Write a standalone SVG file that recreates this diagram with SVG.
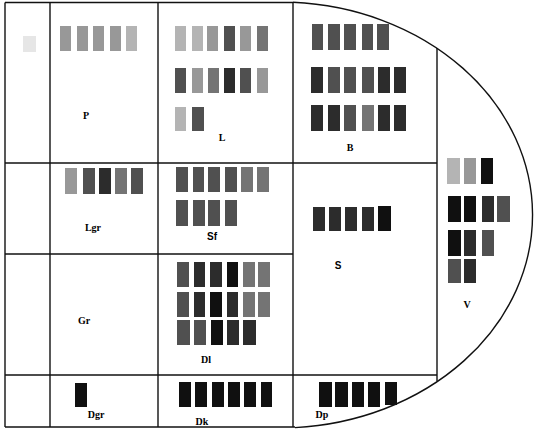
<svg xmlns="http://www.w3.org/2000/svg" width="535" height="431" viewBox="0 0 535 431">
<style>
.ln{stroke:#111;stroke-width:1.4;fill:none}
.lb{font-family:"Liberation Serif",serif;font-size:10px;font-weight:bold;fill:#000;text-anchor:middle}
.lbs{font-family:"Liberation Sans",sans-serif;font-size:10px;font-weight:bold;fill:#000;text-anchor:middle}
.s0{fill:#e6e6e6}
.s1{fill:#b4b4b4}
.s2{fill:#989898}
.s3{fill:#747474}
.s4{fill:#505050}
.s5{fill:#2c2c2c}
.s6{fill:#101010}
</style>
<rect width="535" height="431" fill="#fff"/>
<g id="frame">
<path class="ln" d="M293,2.3 A253,213 0 0 1 295,427.6"/>
<line class="ln" x1="5" y1="2.5" x2="293" y2="2.5"/>
<line class="ln" x1="5" y1="2.5" x2="5" y2="427"/>
<line class="ln" x1="5" y1="427" x2="295" y2="427"/>
<line class="ln" x1="50" y1="2.5" x2="50" y2="427"/>
<line class="ln" x1="158" y1="2.5" x2="158" y2="427"/>
<line class="ln" x1="293" y1="2.5" x2="293" y2="427"/>
<line class="ln" x1="437" y1="48" x2="437" y2="381"/>
<line class="ln" x1="5" y1="163" x2="437" y2="163"/>
<line class="ln" x1="5" y1="254" x2="293" y2="254"/>
<line class="ln" x1="5" y1="375" x2="437" y2="375"/>
</g>
<g id="corner">
<rect class="s0" x="23" y="36" width="13" height="16"/>
</g>
<g id="P">
<rect class="s2" x="60" y="26" width="11" height="25"/>
<rect class="s2" x="77" y="26" width="11" height="25"/>
<rect class="s2" x="93" y="26" width="11" height="25"/>
<rect class="s2" x="110" y="26" width="11" height="25"/>
<rect class="s1" x="126" y="26" width="11" height="25"/>
<text class="lb" x="86" y="119">P</text>
</g>
<g id="L">
<rect class="s1" x="175" y="26" width="11" height="25"/>
<rect class="s1" x="192" y="26" width="11" height="25"/>
<rect class="s2" x="207" y="26" width="11" height="25"/>
<rect class="s4" x="224" y="26" width="11" height="25"/>
<rect class="s2" x="240" y="26" width="11" height="25"/>
<rect class="s3" x="257" y="26" width="11" height="25"/>
<rect class="s4" x="175" y="68" width="11" height="25"/>
<rect class="s2" x="192" y="68" width="11" height="25"/>
<rect class="s3" x="208" y="68" width="11" height="25"/>
<rect class="s5" x="224" y="68" width="11" height="25"/>
<rect class="s4" x="240" y="68" width="11" height="25"/>
<rect class="s2" x="257" y="68" width="11" height="25"/>
<rect class="s1" x="175" y="107" width="11" height="24"/>
<rect class="s4" x="192" y="107" width="12" height="24"/>
<text class="lb" x="222" y="141">L</text>
</g>
<g id="B">
<rect class="s4" x="312" y="24" width="11" height="26"/>
<rect class="s4" x="328" y="24" width="12" height="26"/>
<rect class="s4" x="344" y="24" width="12" height="26"/>
<rect class="s4" x="362" y="24" width="11" height="26"/>
<rect class="s4" x="377" y="24" width="12" height="26"/>
<rect class="s5" x="311" y="67" width="12" height="26"/>
<rect class="s4" x="328" y="67" width="12" height="26"/>
<rect class="s4" x="344" y="67" width="12" height="26"/>
<rect class="s4" x="362" y="67" width="12" height="26"/>
<rect class="s5" x="378" y="67" width="12" height="26"/>
<rect class="s5" x="394" y="67" width="12" height="26"/>
<rect class="s5" x="311" y="105" width="12" height="26"/>
<rect class="s5" x="328" y="105" width="12" height="26"/>
<rect class="s4" x="344" y="105" width="12" height="26"/>
<rect class="s3" x="362" y="105" width="12" height="26"/>
<rect class="s5" x="378" y="105" width="12" height="26"/>
<rect class="s5" x="394" y="105" width="12" height="26"/>
<text class="lb" x="350" y="151">B</text>
</g>
<g id="Lgr">
<rect class="s2" x="65" y="168" width="12" height="26"/>
<rect class="s4" x="83" y="168" width="12" height="26"/>
<rect class="s5" x="99" y="168" width="12" height="26"/>
<rect class="s3" x="115" y="168" width="12" height="26"/>
<rect class="s4" x="131" y="168" width="12" height="26"/>
<text class="lb" x="93" y="231">Lgr</text>
</g>
<g id="Sf">
<rect class="s4" x="176" y="167" width="12" height="25"/>
<rect class="s4" x="193" y="167" width="11" height="25"/>
<rect class="s4" x="208" y="167" width="12" height="25"/>
<rect class="s4" x="225" y="167" width="12" height="25"/>
<rect class="s3" x="241" y="167" width="12" height="25"/>
<rect class="s3" x="257" y="167" width="12" height="25"/>
<rect class="s4" x="176" y="200" width="12" height="26"/>
<rect class="s4" x="193" y="200" width="12" height="26"/>
<rect class="s4" x="208" y="200" width="12" height="26"/>
<rect class="s4" x="225" y="200" width="12" height="26"/>
<text class="lbs" x="212" y="240">Sf</text>
</g>
<g id="S">
<rect class="s5" x="313" y="207" width="12" height="24"/>
<rect class="s5" x="329" y="207" width="12" height="24"/>
<rect class="s5" x="345" y="207" width="12" height="24"/>
<rect class="s5" x="362" y="207" width="12" height="24"/>
<rect class="s6" x="378" y="206" width="13" height="25"/>
<text class="lbs" x="338" y="269">S</text>
</g>
<g id="V">
<rect class="s1" x="447" y="158" width="13" height="26"/>
<rect class="s2" x="464" y="158" width="12" height="26"/>
<rect class="s6" x="481" y="158" width="12" height="26"/>
<rect class="s6" x="448" y="196" width="13" height="26"/>
<rect class="s6" x="464" y="196" width="12" height="26"/>
<rect class="s5" x="482" y="196" width="12" height="26"/>
<rect class="s4" x="497" y="196" width="13" height="26"/>
<rect class="s6" x="448" y="230" width="13" height="26"/>
<rect class="s5" x="464" y="230" width="12" height="26"/>
<rect class="s4" x="482" y="230" width="12" height="26"/>
<rect class="s4" x="448" y="259" width="13" height="24"/>
<rect class="s5" x="464" y="259" width="12" height="24"/>
<text class="lb" x="467" y="308">V</text>
</g>
<g id="Gr">
<text class="lb" x="84" y="324">Gr</text>
</g>
<g id="Dl">
<rect class="s4" x="177" y="262" width="12" height="25"/>
<rect class="s5" x="194" y="262" width="11" height="25"/>
<rect class="s5" x="210" y="262" width="12" height="25"/>
<rect class="s6" x="227" y="262" width="11" height="25"/>
<rect class="s3" x="243" y="262" width="12" height="25"/>
<rect class="s3" x="258" y="262" width="12" height="25"/>
<rect class="s4" x="177" y="292" width="12" height="25"/>
<rect class="s5" x="194" y="292" width="11" height="25"/>
<rect class="s6" x="210" y="292" width="12" height="25"/>
<rect class="s5" x="227" y="292" width="11" height="25"/>
<rect class="s3" x="243" y="292" width="12" height="25"/>
<rect class="s3" x="258" y="292" width="12" height="25"/>
<rect class="s4" x="177" y="320" width="13" height="25"/>
<rect class="s4" x="194" y="320" width="12" height="25"/>
<rect class="s6" x="211" y="320" width="12" height="25"/>
<rect class="s5" x="227" y="320" width="12" height="25"/>
<rect class="s5" x="243" y="320" width="13" height="25"/>
<text class="lb" x="206" y="363">Dl</text>
</g>
<g id="Dgr">
<rect class="s6" x="75" y="383" width="12" height="24"/>
<text class="lb" x="96" y="418">Dgr</text>
</g>
<g id="Dk">
<rect class="s6" x="179" y="382" width="12" height="25"/>
<rect class="s6" x="195" y="382" width="12" height="25"/>
<rect class="s6" x="212" y="382" width="12" height="25"/>
<rect class="s6" x="228" y="382" width="12" height="25"/>
<rect class="s6" x="244" y="382" width="12" height="25"/>
<rect class="s6" x="261" y="382" width="11" height="25"/>
<text class="lb" x="202" y="425">Dk</text>
</g>
<g id="Dp">
<rect class="s6" x="319" y="382" width="13" height="25"/>
<rect class="s6" x="335" y="382" width="13" height="25"/>
<rect class="s6" x="352" y="382" width="12" height="25"/>
<rect class="s6" x="368" y="382" width="12" height="25"/>
<rect class="s6" x="385" y="382" width="12" height="23"/>
<text class="lb" x="322" y="418">Dp</text>
</g>
</svg>
